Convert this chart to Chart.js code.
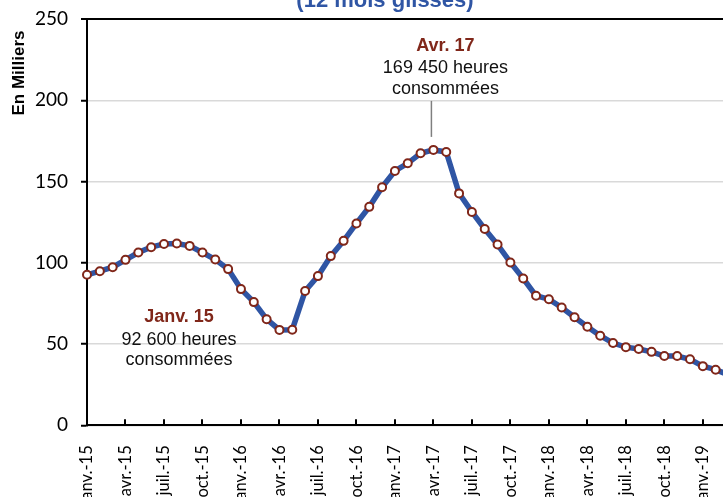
<!DOCTYPE html>
<html>
<head>
<meta charset="utf-8">
<script src="https://cdn.jsdelivr.net/npm/chart.js@4.4.1/dist/chart.umd.min.js"></script>
<style>
  html, body { margin: 0; padding: 0; overflow: hidden; background: #fff; width: 723px; height: 497px; }
  #frame { position: relative; width: 723px; height: 497px; overflow: hidden; }
  #chart { position: absolute; left: 0; top: 0; display: block; }
</style>
</head>
<body>
<div id="frame"><canvas id="chart" width="740" height="510" style="width:740px;height:510px"></canvas></div>
<script>
// months, Jan 2015 -> Mar 2019
const months = [
  'janv.-15', 'févr.-15', 'mars-15', 'avr.-15', 'mai-15', 'juin-15', 'juil.-15', 'août-15', 'sept.-15', 'oct.-15', 'nov.-15', 'déc.-15',
  'janv.-16', 'févr.-16', 'mars-16', 'avr.-16', 'mai-16', 'juin-16', 'juil.-16', 'août-16', 'sept.-16', 'oct.-16', 'nov.-16', 'déc.-16',
  'janv.-17', 'févr.-17', 'mars-17', 'avr.-17', 'mai-17', 'juin-17', 'juil.-17', 'août-17', 'sept.-17', 'oct.-17', 'nov.-17', 'déc.-17',
  'janv.-18', 'févr.-18', 'mars-18', 'avr.-18', 'mai-18', 'juin-18', 'juil.-18', 'août-18', 'sept.-18', 'oct.-18', 'nov.-18', 'déc.-18',
  'janv.-19', 'févr.-19', 'mars-19'
];

// heures consommées, en milliers (12 mois glissés)
const hours = [
  92.6, 94.8, 97.3, 101.8, 106.3, 109.6, 111.6, 111.9, 110.4, 106.3, 102.0, 96.1,
  83.8, 75.8, 65.3, 58.7, 58.8, 82.6, 91.8, 104.1, 113.5, 124.2, 134.4, 146.5,
  156.5, 161.2, 167.4, 169.45, 168.2, 142.7, 131.3, 120.8, 111.2, 100.2, 90.3, 79.7,
  77.6, 72.5, 66.5, 60.6, 55.1, 50.6, 48.1, 46.9, 45.2, 42.6, 42.6, 40.6,
  36.4, 34.2, 31.0
];

const noteIndex = [0, 27];
const noteTitle = ['Janv. 15', 'Avr. 17'];
const noteText = [
  ['92 600 heures', 'consommées'],
  ['169 450 heures', 'consommées']
];

const titleText = '(12 mois glissés)';
const axisTitle = 'En Milliers';

const BLUE = '#2f55a4';
const DARK_RED = '#80271a';
const TEXT_FONT = '"Liberation Sans", Arial, sans-serif';

const overlay = {
  id: 'overlay',
  afterDatasetsDraw(chart) {
    const { ctx, chartArea, scales } = chart;
    const xs = scales.x, ys = scales.y;
    ctx.save();

    // inside tick marks on the x axis, every 3 months
    ctx.strokeStyle = '#000';
    ctx.lineWidth = 2;
    for (let i = 0; i < months.length; i += 3) {
      const x = Math.round(xs.getPixelForValue(i));
      ctx.beginPath();
      ctx.moveTo(x, chartArea.bottom);
      ctx.lineTo(x, chartArea.bottom - 6);
      ctx.stroke();
    }

    // title (cut by the top of the picture)
    ctx.fillStyle = BLUE;
    ctx.font = 'bold 22px ' + TEXT_FONT;
    ctx.textAlign = 'center';
    ctx.textBaseline = 'alphabetic';
    ctx.fillText(titleText, 385, 6.5);

    // y axis title
    ctx.save();
    ctx.translate(24, 73);
    ctx.rotate(-Math.PI / 2);
    ctx.fillStyle = '#000';
    ctx.font = 'bold 17px ' + TEXT_FONT;
    ctx.fillText(axisTitle, 0, 0);
    ctx.restore();

    // annotations
    const offsets = [[92, 47.5], [12, -99]];
    noteIndex.forEach((idx, n) => {
      const px = xs.getPixelForValue(idx);
      const py = ys.getPixelForValue(hours[idx]);
      const cx = px + offsets[n][0];
      const by = py + offsets[n][1];
      ctx.textAlign = 'center';
      ctx.fillStyle = DARK_RED;
      ctx.font = 'bold 18px ' + TEXT_FONT;
      ctx.fillText(noteTitle[n], cx, by);
      ctx.fillStyle = '#111';
      ctx.font = '18px ' + TEXT_FONT;
      ctx.fillText(noteText[n][0], cx, by + 22.5);
      ctx.fillText(noteText[n][1], cx, by + 43);
      if (n === 1) {
        ctx.strokeStyle = '#7f7f7f';
        ctx.lineWidth = 1.5;
        ctx.beginPath();
        ctx.moveTo(px - 2, py - 49);
        ctx.lineTo(px - 2, py - 13);
        ctx.stroke();
      }
    });
    ctx.restore();
  }
};

new Chart(document.getElementById('chart'), {
  type: 'line',
  data: {
    labels: months,
    datasets: [{
      data: hours,
      borderColor: BLUE,
      borderWidth: 5.5,
      tension: 0,
      pointRadius: 4,
      pointHoverRadius: 4,
      pointBorderWidth: 2,
      pointBorderColor: DARK_RED,
      pointBackgroundColor: '#fff'
    }]
  },
  options: {
    responsive: false,
    animation: false,
    devicePixelRatio: 1,
    layout: { padding: { top: 19, right: 11.5, left: 0, bottom: 0 } },
    plugins: {
      legend: { display: false },
      tooltip: { enabled: false }
    },
    scales: {
      x: {
        offset: false,
        grid: { display: false },
        border: { color: '#000', width: 2 },
        ticks: {
          autoSkip: false,
          minRotation: 90,
          maxRotation: 90,
          padding: 12,
          color: '#000',
          font: { family: 'Lato, sans-serif', size: 16.5 },
          callback: (v, i) => (i % 3 === 0 ? months[i] : '')
        },
        afterFit: (s) => {
          s.height = 84.7;
          s.paddingLeft = 0;
          s.paddingRight = 0;
        }
      },
      y: {
        min: 0,
        max: 250,
        ticks: {
          stepSize: 50,
          padding: 13,
          color: '#000',
          font: { family: 'Lato, sans-serif', size: 19 }
        },
        grid: {
          color: (c) => (c.tick && c.tick.value === 250 ? '#000' : '#d9d9d9'),
          lineWidth: (c) => (c.tick && c.tick.value === 250 ? 2 : 1.5),
          tickColor: '#000',
          tickLength: 6,
          tickWidth: 2
        },
        border: { color: '#000', width: 2 },
        afterFit: (s) => {
          s.width = 87;
          s.paddingTop = 0;
          s.paddingBottom = 0;
        }
      }
    }
  },
  plugins: [overlay]
});
</script>
</body>
</html>
